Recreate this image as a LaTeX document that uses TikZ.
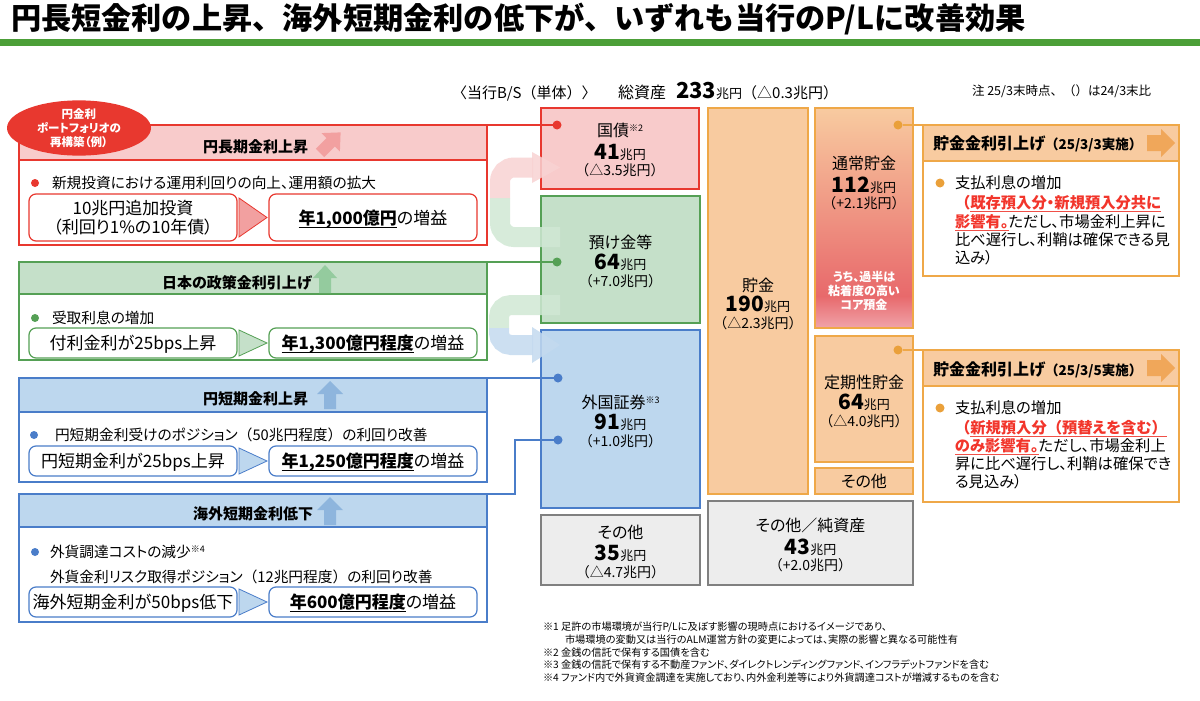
\documentclass[tikz,border=0pt]{standalone}
\usepackage{fontspec}
\setmainfont{Noto Sans CJK JP}[RawFeature=+palt]
\newfontfamily\fw{Noto Sans CJK JP}
\usetikzlibrary{shapes.geometric}
\definecolor{rd}{HTML}{E8382F}
\definecolor{rdfill}{HTML}{F8CBCB}
\definecolor{rdarrow}{HTML}{F2A0A0}
\definecolor{gn}{HTML}{55A055}
\definecolor{gnfill}{HTML}{C5E0C9}
\definecolor{gnarrow}{HTML}{94CB9E}
\definecolor{bl}{HTML}{4A7DC9}
\definecolor{blfill}{HTML}{BDD7EE}
\definecolor{blarrow}{HTML}{8EB5DD}
\definecolor{orl}{HTML}{EFA848}
\definecolor{orfill}{HTML}{F8CBA0}
\definecolor{ordot}{HTML}{EAA03A}
\definecolor{orarrow}{HTML}{F0A75A}
\definecolor{gy}{HTML}{808080}
\definecolor{gyfill}{HTML}{EDEDED}
\definecolor{tg}{HTML}{4C9F38}
\definecolor{warn}{HTML}{F2352B}
\definecolor{warnul}{HTML}{F05048}
\definecolor{coreRed}{HTML}{E8696B}
\definecolor{corePink}{HTML}{F0A3AA}
\definecolor{upk}{HTML}{F8D3D3}
\definecolor{ugn}{HTML}{D0E8D4}
\definecolor{ubl}{HTML}{C4DAEF}
\newcommand\fsz[1]{\fontsize{#1}{#1}\selectfont}
\newsavebox\ulbox
\newcommand\uln[2]{\sbox\ulbox{#2}\rlap{\smash{\color{#1}\rule[-3.5pt]{\wd\ulbox}{1.3pt}}}\usebox\ulbox}
\newcommand\kome[1]{\raisebox{5pt}{\fsz{9}※#1}}
\newcommand\amount[2]{{\fsz{21}\bfseries #1}{\fsz{13}#2}}
\begin{document}
\begin{tikzpicture}[x=1pt,y=-1pt,
  every node/.style={inner sep=0pt,outer sep=0pt},
  pframe/.style={draw,rectangle,line width=1.3pt},
  sbox/.style={draw,rectangle,rounded corners=7pt,line width=1.2pt,fill=white},
  hdr/.style={anchor=base east,font=\fsz{15}\bfseries},
  bul/.style={anchor=base west,font=\fsz{14.7}},
  subtxt/.style={anchor=base,font=\fsz{17}},
  bdot/.style={circle,minimum size=8pt},
  lbl/.style={anchor=base,font=\fsz{16}},
  amt/.style={anchor=base},
  chg/.style={anchor=base,font=\fw\fsz{14}},
  rtxt/.style={anchor=base west,font=\fsz{15.3}},
  conn/.style={line width=1.2pt},
  foot/.style={anchor=base west,font=\fsz{10.2}}
]
\useasboundingbox[fill=white] (0,0) rectangle (1200,701);

% title
\node[anchor=base west,font=\fw\fsz{30.2}\bfseries] (title) at (11,30) {円長短金利の上昇、海外短期金利の低下が、いずれも当行のP/Lに改善効果};
\fill[tg] (0,39) rectangle (1200,46);

% ---------- panel 1 ----------
\node[pframe,draw=rd,fill=white,minimum width=468pt,minimum height=120pt] (p1) at (253,185) {};
\node[pframe,draw=rd,fill=rdfill,minimum width=468pt,minimum height=35pt] (p1h) at (253,142.5) {};
\node[hdr] (p1t) at (308,152) {円長期金利上昇};
\begin{scope}[shift={(330,143)},rotate=-45]
\fill[rdarrow] (-6,14) -- (6,14) -- (6,-1) -- (13,-1) -- (0,-15) -- (-13,-1) -- (-6,-1) -- cycle;
\end{scope}
\node[ellipse,fill=rd,minimum width=144pt,minimum height=50pt,align=center,font=\fontsize{11.5}{14}\selectfont\bfseries,text=white] (ell) at (79,128) {円金利\\ポートフォリオの\\再構築（例）};
\node[bdot,fill=rd] (b1) at (35,183) {};
\node[bul] (t1) at (52,188.5) {新規投資における運用利回りの向上、運用額の拡大};
\node[sbox,draw=rd,minimum width=208pt,minimum height=47pt] (l1) at (133,217.5) {};
\node[subtxt] (l1a) at (133,214.5) {10兆円追加投資};
\node[subtxt] (l1b) at (133,233.5) {（利回り1\%の10年債）};
\draw[rd,fill=rdarrow,line width=0.8pt] (239,198) -- (267,217.5) -- (239,237) -- cycle;
\node[sbox,draw=rd,minimum width=208pt,minimum height=47pt] (r1b) at (373,217.5) {};
\node[subtxt] (r1t) at (373,224.5) {\uln{black}{\bfseries 年1,000億円}の増益};

% ---------- panel 2 ----------
\node[pframe,draw=gn,fill=white,minimum width=468pt,minimum height=98pt] (p2) at (253,311) {};
\node[pframe,draw=gn,fill=gnfill,minimum width=468pt,minimum height=32pt] (p2h) at (253,278) {};
\node[hdr] (p2t) at (312,288) {日本の政策金利引上げ};
\begin{scope}[shift={(325,279)}]
\fill[gnarrow] (-6,14) -- (6,14) -- (6,-1) -- (12,-1) -- (0,-14) -- (-12,-1) -- (-6,-1) -- cycle;
\end{scope}
\node[bdot,fill=gn] (b2) at (35,318) {};
\node[bul] (t2) at (52,323.5) {受取利息の増加};
\node[sbox,draw=gn,minimum width=208pt,minimum height=30pt] (l2) at (133,343) {};
\node[subtxt] (l2t) at (133,349.5) {付利金利が25bps上昇};
\draw[gn,fill=gnfill,line width=0.8pt] (239,330) -- (267,343) -- (239,356) -- cycle;
\node[sbox,draw=gn,minimum width=208pt,minimum height=30pt] (r2b) at (373,343) {};
\node[subtxt] (r2t) at (373,349.5) {\uln{black}{\bfseries 年1,300億円程度}の増益};

% ---------- panel 3 ----------
\node[pframe,draw=bl,fill=white,minimum width=468pt,minimum height=104pt] (p3) at (253,430) {};
\node[pframe,draw=bl,fill=blfill,minimum width=468pt,minimum height=34pt] (p3h) at (253,395) {};
\node[hdr] (p3t) at (308,404) {円短期金利上昇};
\begin{scope}[shift={(330,395)}]
\fill[blarrow] (-6,14) -- (6,14) -- (6,-1) -- (13,-1) -- (0,-14) -- (-13,-1) -- (-6,-1) -- cycle;
\end{scope}
\node[bdot,fill=bl] (b3) at (34,435) {};
\node[bul] (t3) at (55,440.5) {円短期金利受けのポジション{\fw（50兆円程度）}の利回り改善};
\node[sbox,draw=bl,minimum width=208pt,minimum height=30pt] (l3) at (133,461) {};
\node[subtxt] (l3t) at (133,467.5) {円短期金利が25bps上昇};
\draw[bl,fill=blfill,line width=0.8pt] (239,448) -- (267,461) -- (239,474) -- cycle;
\node[sbox,draw=bl,minimum width=208pt,minimum height=30pt] (r3b) at (373,461) {};
\node[subtxt] (r3t) at (373,467.5) {\uln{black}{\bfseries 年1,250億円程度}の増益};

% ---------- panel 4 ----------
\node[pframe,draw=bl,fill=white,minimum width=468pt,minimum height=128pt] (p4) at (253,558) {};
\node[pframe,draw=bl,fill=blfill,minimum width=468pt,minimum height=33pt] (p4h) at (253,510.5) {};
\node[hdr] (p4t) at (313,519) {海外短期金利低下};
\begin{scope}[shift={(330,511)}]
\fill[blarrow] (-6,14) -- (6,14) -- (6,-1) -- (13,-1) -- (0,-14) -- (-13,-1) -- (-6,-1) -- cycle;
\end{scope}
\node[bdot,fill=bl] (b4) at (35,552) {};
\node[bul] (t4a) at (50,557.5) {外貨調達コストの減少\kome{4}};
\node[bul] (t4b) at (50,582.5) {外貨金利リスク取得ポジション{\fw（12兆円程度）}の利回り改善};
\node[sbox,draw=bl,minimum width=208pt,minimum height=30pt] (l4) at (133,602) {};
\node[subtxt] (l4t) at (133,608.5) {海外短期金利が50bps低下};
\draw[bl,fill=blfill,line width=0.8pt] (239,589) -- (267,602) -- (239,615) -- cycle;
\node[sbox,draw=bl,minimum width=208pt,minimum height=30pt] (r4b) at (373,602) {};
\node[subtxt] (r4t) at (373,608.5) {\uln{black}{\bfseries 年600億円程度}の増益};

% ---------- B/S headings ----------
\node[anchor=base west,font=\fw\fsz{15}] (bsl) at (452,98.5) {〈当行B/S（単体）〉};
\node[anchor=base west] (tot) at (618,99) {{\fsz{16}総資産}\hspace{10pt}{\fsz{22}\bfseries 233}{\fsz{13}兆円}{\fw\fsz{15}（△0.3兆円）}};
\node[anchor=base west,font=\fw\fsz{12.5}] (note) at (972,95.5) {注 25/3末時点、（）は24/3末比};

% ---------- assets ----------
\node[pframe,draw=rd,fill=rdfill,minimum width=158pt,minimum height=81pt] (kb) at (620,148.5) {};
\node[lbl] (kb1) at (620,136) {国債\kome{2}};
\node[amt] (kb2) at (620,159.5) {\amount{41}{兆円}};
\node[chg] (kb3) at (620,175.5) {（△3.5兆円）};

\node[pframe,draw=gn,fill=gnfill,minimum width=159pt,minimum height=127pt] (ab) at (620.5,259.5) {};
\node[lbl] (ab1) at (620.5,248) {預け金等};
\node[amt] (ab2) at (620.5,269.5) {\amount{64}{兆円}};
\node[chg] (ab3) at (620.5,286.5) {（+7.0兆円）};

\node[pframe,draw=bl,fill=blfill,minimum width=159pt,minimum height=178pt] (fb) at (620.5,419) {};
\node[lbl] (fb1) at (620.5,408) {外国証券\kome{3}};
\node[amt] (fb2) at (620.5,429.5) {\amount{91}{兆円}};
\node[chg] (fb3) at (620.5,446.5) {（+1.0兆円）};

\node[pframe,draw=gy,fill=gyfill,minimum width=159pt,minimum height=70pt] (ob) at (620.5,550) {};
\node[lbl] (ob1) at (620.5,538) {その他};
\node[amt] (ob2) at (620.5,560.5) {\amount{35}{兆円}};
\node[chg] (ob3) at (620.5,577.5) {（△4.7兆円）};

% ---------- liabilities ----------
\node[pframe,draw=orl,fill=orfill,minimum width=100pt,minimum height=386pt] (cb) at (758,301) {};
\node[lbl] (cb1) at (758,291) {貯金};
\node[amt] (cb2) at (758,311.5) {\amount{190}{兆円}};
\node[chg] (cb3) at (758,328.5) {（△2.3兆円）};

\shade[top color=orfill,bottom color=coreRed] (815,108) rectangle (913,296);
\shade[top color=coreRed,bottom color=corePink] (815,296) rectangle (913,328);
\node[pframe,draw=orl,minimum width=98pt,minimum height=220pt] (nb) at (864,218) {};
\node[lbl] (nb1) at (864,169) {通常貯金};
\node[amt] (nb2) at (864,192.5) {\amount{112}{兆円}};
\node[chg] (nb3) at (864,208.5) {（+2.1兆円）};
\node[anchor=base,font=\fsz{12}\bfseries,text=white] (nb4) at (864,281.5) {うち、過半は};
\node[anchor=base,font=\fsz{12}\bfseries,text=white] (nb5) at (864,295.5) {粘着度の高い};
\node[anchor=base,font=\fsz{12}\bfseries,text=white] (nb6) at (864,309.5) {コア預金};

\node[pframe,draw=orl,fill=orfill,minimum width=98pt,minimum height=126pt] (tb) at (864,399) {};
\node[lbl] (tb1) at (864,388) {定期性貯金};
\node[amt] (tb2) at (864,409.5) {\amount{64}{兆円}};
\node[chg] (tb3) at (864,426.5) {（△4.0兆円）};

\node[pframe,draw=orl,fill=orfill,minimum width=98pt,minimum height=26pt] (sb) at (864,481) {};
\node[lbl] (sb1) at (864,487) {その他};

\node[pframe,draw=gy,fill=gyfill,minimum width=205pt,minimum height=84pt] (nab) at (810.5,543) {};
\node[lbl] (nab1) at (810.5,531) {その他／純資産};
\node[amt] (nab2) at (810.5,554.5) {\amount{43}{兆円}};
\node[chg] (nab3) at (810.5,570.5) {（+2.0兆円）};

% ---------- U-turn arrows ----------
\begin{scope}[opacity=0.85]
\draw[ugn,line width=20pt,rounded corners=14pt] (560,237) -- (500,237) -- (500,198);
\draw[upk,line width=20pt,rounded corners=14pt] (500,198) -- (500,167.5) -- (533,167.5);
\fill[upk] (532,152) -- (560,167.5) -- (532,183) -- cycle;
\draw[ugn,line width=20pt,rounded corners=12pt] (560,305) -- (499,305) -- (499,328);
\draw[ubl,line width=20pt,rounded corners=12pt] (499,328) -- (499,345) -- (533,345);
\fill[ubl] (532,327) -- (560,345) -- (532,363) -- cycle;
\end{scope}

% ---------- right boxes ----------
\node[pframe,draw=orl,fill=white,minimum width=256pt,minimum height=151pt] (rb1) at (1051,200.5) {};
\node[pframe,draw=orl,fill=orfill,minimum width=256pt,minimum height=36pt] (rb1h) at (1051,143) {};
\node[anchor=base west] (rb1t) at (933,149.5) {{\fsz{16}\bfseries 貯金金利引上げ}{\fw\fsz{13.5}\bfseries （25/3/3実施）}};
\begin{scope}[shift={(1161,143)},rotate=-90]
\fill[orarrow] (-8,14) -- (8,14) -- (8,0) -- (14,0) -- (0,-14) -- (-14,0) -- (-8,0) -- cycle;
\end{scope}
\node[bdot,fill=ordot,minimum size=9pt] (rb1d) at (940,183) {};
\node[rtxt] (rb1a) at (955,188.5) {支払利息の増加};
\node[rtxt] (rb1b) at (955,208.5) {\textcolor{warn}{\bfseries {\fw （}\uln{warnul}{既存預入分・新規預入分共に}}};
\node[rtxt] (rb1c) at (955,227.5) {\textcolor{warn}{\bfseries\uln{warnul}{影響有。}}ただし、市場金利上昇に};
\node[rtxt] (rb1e) at (955,245.5) {比べ遅行し、利鞘は確保できる見};
\node[rtxt] (rb1f) at (955,263.5) {込み）};

\node[pframe,draw=orl,fill=white,minimum width=256pt,minimum height=152pt] (rb2) at (1051,426) {};
\node[pframe,draw=orl,fill=orfill,minimum width=256pt,minimum height=36pt] (rb2h) at (1051,368) {};
\node[anchor=base west] (rb2t) at (933,375.5) {{\fsz{16}\bfseries 貯金金利引上げ}{\fw\fsz{13.5}\bfseries （25/3/5実施）}};
\begin{scope}[shift={(1161,368)},rotate=-90]
\fill[orarrow] (-8,14) -- (8,14) -- (8,0) -- (14,0) -- (0,-14) -- (-14,0) -- (-8,0) -- cycle;
\end{scope}
\node[bdot,fill=ordot,minimum size=9pt] (rb2d) at (940,408) {};
\node[rtxt] (rb2a) at (955,413.5) {支払利息の増加};
\node[rtxt] (rb2b) at (955,433.5) {\textcolor{warn}{\bfseries {\fw （}\uln{warnul}{新規預入分{\fw （}預替えを含む{\fw ）}}}};
\node[rtxt] (rb2c) at (955,451.5) {\textcolor{warn}{\bfseries\uln{warnul}{のみ影響有。}}ただし、市場金利上};
\node[rtxt] (rb2e) at (955,469.5) {昇に比べ遅行し、利鞘は確保でき};
\node[rtxt] (rb2f) at (955,487.5) {る見込み）};

% ---------- dots and connectors ----------
\node[bdot,fill=rd,minimum size=9pt] (d1) at (557,125) {};
\node[bdot,fill=gn,minimum size=9pt] (d2) at (557,262) {};
\node[bdot,fill=bl,minimum size=9pt] (d3) at (558,378) {};
\node[bdot,fill=bl,minimum size=9pt] (d4) at (558,440) {};
\node[bdot,fill=ordot,minimum size=9pt] (d5) at (898,125) {};
\node[bdot,fill=ordot,minimum size=9pt] (d6) at (898,350) {};
\draw[conn,rd] (p1.north east) -- (d1);
\draw[conn,gn] (p2.north east) -- (d2);
\draw[conn,bl] (p3.north east) -- (d3);
\draw[conn,bl] (p4.north east) -- ++(28,0) |- (d4);
\draw[conn,orl] (d5) -- (rb1.north west);
\draw[conn,orl] (d6) -- (rb2.north west);

% ---------- footnotes ----------
\node[foot] (f1) at (543,630) {※1 足許の市場環境が当行P/Lに及ぼす影響の現時点におけるイメージであり、};
\node[foot] (f2) at (565,643) {市場環境の変動又は当行のALM運営方針の変更によっては、実際の影響と異なる可能性有};
\node[foot] (f3) at (543,656) {※2 金銭の信託で保有する国債を含む};
\node[foot] (f4) at (543,668) {※3 金銭の信託で保有する不動産ファンド、ダイレクトレンディングファンド、インフラデットファンドを含む};
\node[foot] (f5) at (543,681) {※4 ファンド内で外貨資金調達を実施しており、内外金利差等により外貨調達コストが増減するものを含む};
\end{tikzpicture}
\end{document}
